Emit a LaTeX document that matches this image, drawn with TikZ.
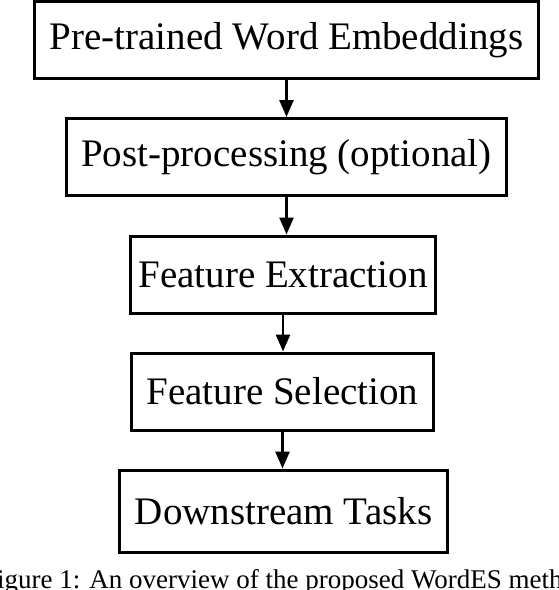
\documentclass[tikz,border=0pt]{standalone}
\usepackage{fontspec}
\setmainfont{Liberation Serif}
\usetikzlibrary{arrows.meta}

\begin{document}
\begin{tikzpicture}[x=1pt, y=-1pt,
    stagebox/.style={rectangle, draw, line width=3pt, fill=white, minimum height=77pt, inner xsep=15pt, font=\fontsize{39}{46}\selectfont},
    flowarrow/.style={line width=2.6pt, -{Triangle[length=17pt, width=14pt]}}]
    \useasboundingbox (0,0) rectangle (558,590);
    \clip (0,0) rectangle (558,590);

    % Draw nodes
    \node[stagebox] (embed) at (286.5,40) {Pre-trained Word Embeddings};
    \node[stagebox] (post) at (286.5,157) {Post-processing (optional)};
    \node[stagebox, inner xsep=8pt] (extract) at (283,274.5) {Feature Extraction};
    \node[stagebox] (select) at (282.5,391.5) {Feature Selection};
    \node[stagebox, minimum height=82pt] (tasks) at (283.5,511) {Downstream Tasks};

    % Draw connections
    \draw[flowarrow] (embed.south) -- (embed.south |- post.north);
    \draw[flowarrow] (post.south) -- (post.south |- extract.north);
    \draw[flowarrow] (extract.south) -- (extract.south |- select.north);
    \draw[flowarrow] (select.south) -- (select.south |- tasks.north);

    % Caption
    \node[anchor=base west, inner sep=0pt, font=\fontsize{27}{32}\selectfont] (caption) at (-3,588) {igure 1: An overview of the proposed WordES meth};
\end{tikzpicture}
\end{document}
